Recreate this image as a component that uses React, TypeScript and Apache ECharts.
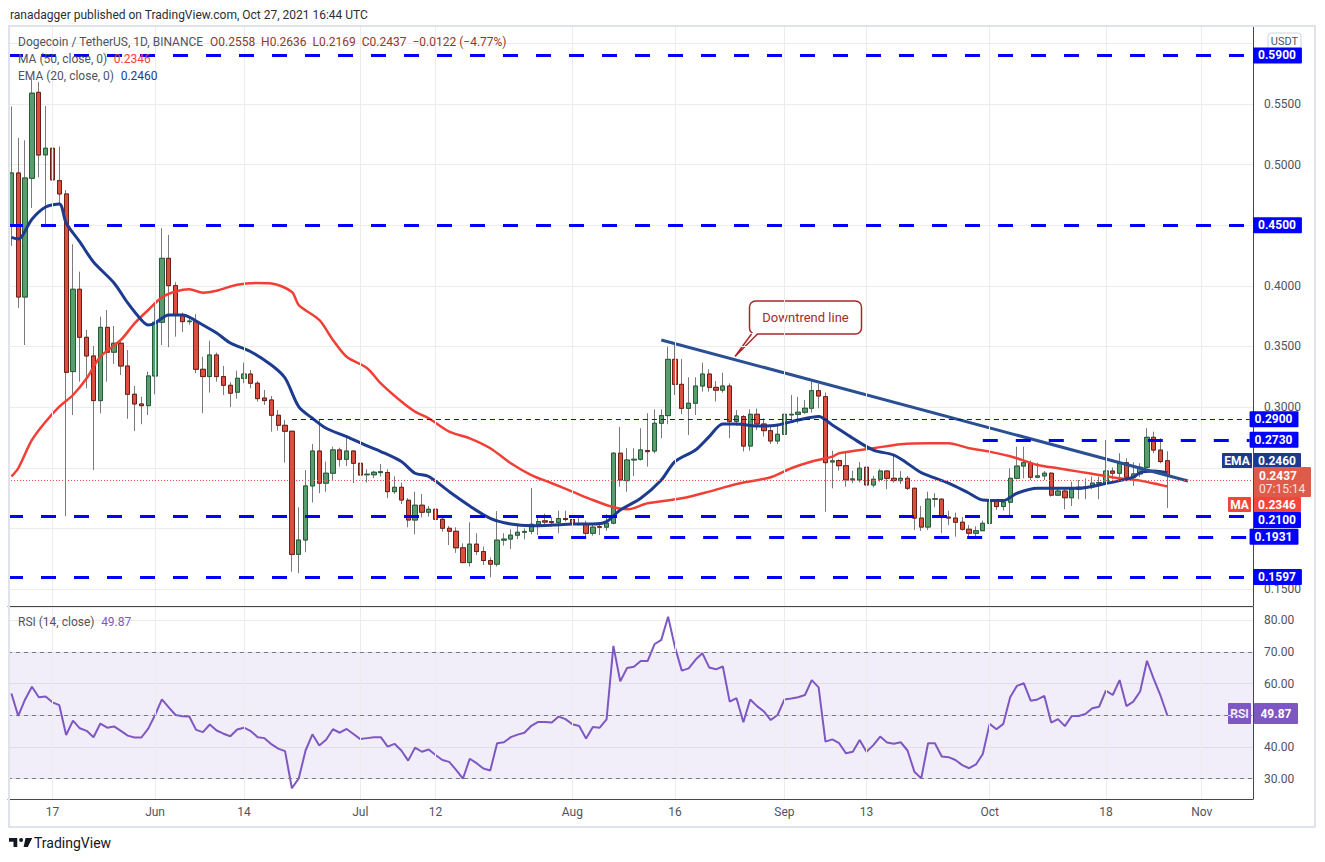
import React, { useEffect, useRef } from "react";
import * as echarts from "echarts";

// ---------- data ----------
const FIRST_DAY = Date.UTC(2021, 4, 11);
const DAY_COUNT = 182;
const categories: string[] = [];
for (let k = 0; k < DAY_COUNT; k++) {
  categories.push(new Date(FIRST_DAY + k * 86400000).toISOString().slice(0, 10));
}

const opens = [
  0.4502, 0.4931, 0.3908, 0.4887, 0.5596, 0.508, 0.5135, 0.4868, 0.4758, 0.3293,
  0.3972, 0.3576, 0.3422, 0.3054, 0.3658, 0.3453, 0.3527, 0.3339, 0.3106, 0.3026,
  0.3012, 0.3257, 0.37, 0.4227, 0.4002, 0.376, 0.3705, 0.3705, 0.3312, 0.3252,
  0.343, 0.3252, 0.318, 0.3123, 0.3238, 0.3273, 0.3197, 0.3075, 0.3059, 0.2933,
  0.285, 0.2801, 0.1786, 0.1904, 0.235, 0.2638, 0.2373, 0.2455, 0.2647, 0.257,
  0.2638, 0.2537, 0.2442, 0.2442, 0.246, 0.2461, 0.2303, 0.2339, 0.2232, 0.2069,
  0.2191, 0.2133, 0.2158, 0.2075, 0.2001, 0.1976, 0.184, 0.1718, 0.187, 0.1809,
  0.1735, 0.1705, 0.1903, 0.1912, 0.1944, 0.1968, 0.1976, 0.2034, 0.2062, 0.2056,
  0.2048, 0.2081, 0.2073, 0.204, 0.2036, 0.196, 0.2014, 0.201, 0.2043, 0.262,
  0.2394, 0.2564, 0.257, 0.2642, 0.2638, 0.2867, 0.293, 0.3394, 0.3188, 0.299,
  0.3032, 0.3174, 0.3273, 0.3163, 0.314, 0.3174, 0.2883, 0.2922, 0.2679, 0.2941,
  0.2861, 0.2806, 0.2721, 0.2776, 0.2936, 0.2941, 0.2958, 0.2991, 0.3136, 0.3087,
  0.2548, 0.2559, 0.2517, 0.24, 0.24, 0.2504, 0.2358, 0.2405, 0.2473, 0.2413,
  0.2394, 0.2413, 0.2331, 0.2085, 0.2011, 0.2241, 0.2241, 0.2093, 0.2085, 0.2051,
  0.1993, 0.196, 0.1981, 0.2042, 0.2221, 0.218, 0.2216, 0.2413, 0.2514, 0.2537,
  0.2422, 0.2433, 0.2455, 0.2274, 0.2308, 0.2253, 0.2323, 0.2336, 0.2342, 0.2373,
  0.2373, 0.2473, 0.2455, 0.2542, 0.2422, 0.2449, 0.2504, 0.2751, 0.2646, 0.2558,
];
const closes = [
  0.4931, 0.3908, 0.489, 0.5589, 0.5079, 0.5135, 0.4874, 0.4758, 0.3287, 0.3972,
  0.3576, 0.3422, 0.3054, 0.3658, 0.3453, 0.3527, 0.3339, 0.3106, 0.3026, 0.3012,
  0.3257, 0.37, 0.4227, 0.4002, 0.376, 0.3705, 0.371, 0.3312, 0.3252, 0.343,
  0.3252, 0.318, 0.3115, 0.3238, 0.3273, 0.3197, 0.307, 0.3054, 0.2933, 0.285,
  0.2801, 0.1786, 0.1904, 0.235, 0.2638, 0.2373, 0.2455, 0.2647, 0.257, 0.2638,
  0.2537, 0.244, 0.2447, 0.2463, 0.2468, 0.2303, 0.2339, 0.2234, 0.2069, 0.2191,
  0.2133, 0.2158, 0.2075, 0.2001, 0.1976, 0.184, 0.1718, 0.187, 0.1809, 0.1735,
  0.1705, 0.1903, 0.1912, 0.1944, 0.1968, 0.1975, 0.2034, 0.2056, 0.2052, 0.2048,
  0.2081, 0.2073, 0.204, 0.2035, 0.196, 0.201, 0.201, 0.2043, 0.262, 0.2399,
  0.2564, 0.257, 0.2647, 0.2633, 0.2867, 0.293, 0.3394, 0.3188, 0.299, 0.3032,
  0.3174, 0.3273, 0.3163, 0.314, 0.3174, 0.2883, 0.2927, 0.2679, 0.2941, 0.2861,
  0.2806, 0.2721, 0.2776, 0.2941, 0.2941, 0.2958, 0.2991, 0.3136, 0.3092, 0.2542,
  0.2557, 0.2517, 0.24, 0.2408, 0.2496, 0.2358, 0.2405, 0.2473, 0.2413, 0.2394,
  0.2413, 0.2331, 0.2085, 0.2011, 0.2241, 0.2244, 0.2093, 0.2085, 0.2051, 0.1993,
  0.196, 0.1981, 0.2042, 0.2221, 0.218, 0.2216, 0.2413, 0.2514, 0.2542, 0.2422,
  0.2433, 0.2455, 0.2274, 0.2308, 0.2253, 0.2323, 0.234, 0.2342, 0.2373, 0.2377,
  0.2473, 0.2455, 0.2542, 0.2422, 0.2449, 0.2504, 0.2751, 0.2646, 0.2551, 0.2437,
];
const lows = [
  0.433, 0.3818, 0.3512, 0.4642, 0.4895, 0.4494, 0.4626, 0.4667, 0.21, 0.2935,
  0.321, 0.3155, 0.2481, 0.2949, 0.321, 0.3356, 0.3265, 0.2904, 0.2803, 0.2859,
  0.2935, 0.3106, 0.3512, 0.3494, 0.3581, 0.362, 0.368, 0.328, 0.2949, 0.312,
  0.321, 0.31, 0.3, 0.307, 0.3197, 0.3155, 0.3046, 0.3018, 0.2798, 0.2806,
  0.2542, 0.1643, 0.163, 0.1803, 0.2213, 0.229, 0.2303, 0.2394, 0.2509, 0.2514,
  0.2373, 0.2378, 0.2378, 0.2414, 0.2428, 0.2249, 0.2284, 0.2201, 0.2009, 0.1951,
  0.2091, 0.2097, 0.2027, 0.1973, 0.1863, 0.1798, 0.1713, 0.1685, 0.178, 0.1698,
  0.1597, 0.1685, 0.1858, 0.183, 0.1912, 0.191, 0.1951, 0.1945, 0.2023, 0.2016,
  0.196, 0.2056, 0.2016, 0.2021, 0.1927, 0.194, 0.1945, 0.198, 0.2034, 0.2344,
  0.2303, 0.2432, 0.2559, 0.2509, 0.262, 0.2744, 0.2859, 0.31, 0.2942, 0.277,
  0.2935, 0.3128, 0.3128, 0.3046, 0.312, 0.2744, 0.2845, 0.2634, 0.2641, 0.2811,
  0.2757, 0.2696, 0.2696, 0.2757, 0.2894, 0.2867, 0.2944, 0.2955, 0.2991, 0.2138,
  0.233, 0.2477, 0.2344, 0.2373, 0.2378, 0.2282, 0.2339, 0.2386, 0.2323, 0.2378,
  0.2366, 0.2317, 0.1987, 0.1979, 0.1987, 0.2174, 0.196, 0.2027, 0.1932, 0.1981,
  0.1927, 0.1932, 0.1979, 0.202, 0.2152, 0.2147, 0.2102, 0.2405, 0.2413, 0.2399,
  0.2414, 0.2399, 0.2262, 0.2268, 0.2158, 0.2185, 0.224, 0.2241, 0.2323, 0.224,
  0.237, 0.2405, 0.2386, 0.2386, 0.235, 0.2425, 0.2496, 0.262, 0.2537, 0.2169,
];
const highs = [
  0.548, 0.522, 0.52, 0.571, 0.568, 0.5484, 0.5154, 0.515, 0.479, 0.4343,
  0.4117, 0.3636, 0.3504, 0.3746, 0.3801, 0.3669, 0.354, 0.3471, 0.3174, 0.3086,
  0.3293, 0.3842, 0.4475, 0.442, 0.403, 0.378, 0.374, 0.3766, 0.3416, 0.3548,
  0.345, 0.334, 0.3205, 0.3301, 0.3367, 0.3306, 0.3215, 0.3141, 0.3092, 0.2976,
  0.2894, 0.2806, 0.2174, 0.2481, 0.2696, 0.29, 0.2551, 0.2674, 0.2666, 0.2757,
  0.2645, 0.262, 0.2487, 0.2475, 0.2531, 0.2488, 0.2428, 0.2378, 0.225, 0.2303,
  0.2284, 0.2185, 0.2185, 0.2097, 0.202, 0.2009, 0.1877, 0.205, 0.196, 0.185,
  0.176, 0.2143, 0.196, 0.1993, 0.2042, 0.2, 0.2333, 0.211, 0.2122, 0.2095,
  0.2146, 0.2146, 0.2174, 0.2105, 0.2064, 0.2042, 0.2042, 0.2118, 0.2628, 0.2837,
  0.2661, 0.2661, 0.2826, 0.295, 0.2982, 0.2982, 0.3499, 0.3512, 0.3397, 0.3246,
  0.3246, 0.3367, 0.3312, 0.3215, 0.3285, 0.3196, 0.2976, 0.2934, 0.2982, 0.2988,
  0.2908, 0.2845, 0.2859, 0.2991, 0.31, 0.3086, 0.3059, 0.3211, 0.3191, 0.312,
  0.2641, 0.257, 0.2625, 0.2476, 0.2547, 0.2523, 0.2432, 0.2488, 0.2481, 0.2597,
  0.2473, 0.2432, 0.2335, 0.2185, 0.2303, 0.229, 0.2245, 0.2146, 0.213, 0.2095,
  0.2027, 0.2017, 0.2064, 0.2249, 0.2241, 0.2241, 0.2496, 0.2674, 0.2674, 0.2559,
  0.2542, 0.2473, 0.2463, 0.2339, 0.2325, 0.2386, 0.2399, 0.2413, 0.2428, 0.2428,
  0.2729, 0.2503, 0.262, 0.2578, 0.2544, 0.2537, 0.2826, 0.2798, 0.2743, 0.2636,
];

const rsiValues = [
  56.9, 49.8, 55.0, 59.0, 55.7, 55.9, 54.1, 53.2, 43.8, 48.3,
  45.9, 45.1, 43.1, 47.4, 46.1, 46.5, 45.1, 43.6, 43.0, 43.0,
  45.8, 50.1, 55.0, 52.5, 50.1, 49.7, 49.6, 45.4, 44.7, 47.1,
  45.2, 44.2, 43.4, 45.5, 46.1, 45.0, 43.1, 42.8, 40.9, 39.5,
  38.7, 27.0, 30.1, 38.9, 44.0, 40.5, 42.3, 45.6, 44.5, 45.7,
  44.1, 42.5, 42.8, 43.1, 43.1, 40.1, 41.0, 38.9, 35.7, 39.8,
  38.5, 39.2, 37.5, 35.9, 35.3, 32.8, 30.0, 36.3, 34.9, 33.2,
  32.6, 41.2, 41.5, 43.1, 43.9, 44.5, 46.7, 47.9, 47.9, 47.7,
  49.6, 48.8, 47.2, 46.6, 42.7, 46.3, 46.1, 48.7, 71.9, 60.7,
  64.9, 65.3, 67.1, 67.1, 72.4, 73.8, 81.1, 71.5, 64.1, 64.8,
  67.5, 69.6, 65.1, 64.5, 65.4, 54.3, 55.4, 47.8, 55.0, 52.9,
  51.2, 48.5, 50.1, 55.0, 55.3, 55.7, 56.4, 61.1, 58.8, 41.7,
  42.4, 41.2, 38.0, 38.5, 42.2, 38.5, 40.6, 43.3, 41.4, 41.0,
  41.5, 38.9, 32.2, 30.1, 41.2, 41.2, 37.0, 36.8, 35.9, 34.3,
  33.3, 34.5, 37.8, 47.3, 45.6, 47.3, 55.7, 59.3, 60.1, 54.6,
  55.0, 56.1, 47.7, 48.8, 46.6, 49.8, 49.8, 50.4, 52.2, 52.7,
  57.8, 56.4, 61.1, 52.9, 54.3, 57.5, 67.2, 61.4, 56.1, 49.87,
];

const emaSamples: [string, number][] = [
  ["2021-05-11", 0.44], ["2021-05-12", 0.4387], ["2021-05-14", 0.455], ["2021-05-16", 0.465],
  ["2021-05-18", 0.4675], ["2021-05-19", 0.4518], ["2021-05-21", 0.4362], ["2021-05-23", 0.4197],
  ["2021-05-26", 0.4024], ["2021-05-28", 0.3859], ["2021-05-30", 0.3719], ["2021-05-31", 0.3677],
  ["2021-06-01", 0.3694], ["2021-06-03", 0.376], ["2021-06-05", 0.376], ["2021-06-06", 0.3743],
  ["2021-06-08", 0.3677], ["2021-06-10", 0.3611], ["2021-06-12", 0.3529], ["2021-06-15", 0.3457],
  ["2021-06-18", 0.3347], ["2021-06-20", 0.324], ["2021-06-22", 0.3004], ["2021-06-24", 0.2908],
  ["2021-06-26", 0.2826], ["2021-06-29", 0.2757], ["2021-07-02", 0.268], ["2021-07-04", 0.2634],
  ["2021-07-07", 0.2551], ["2021-07-09", 0.2455], ["2021-07-11", 0.2428], ["2021-07-14", 0.2303],
  ["2021-07-17", 0.2185], ["2021-07-20", 0.2083], ["2021-07-23", 0.2036], ["2021-07-26", 0.2022],
  ["2021-07-29", 0.2027], ["2021-08-01", 0.2036], ["2021-08-04", 0.2036], ["2021-08-06", 0.2056],
  ["2021-08-08", 0.2151], ["2021-08-11", 0.2248], ["2021-08-14", 0.2399], ["2021-08-16", 0.2551],
  ["2021-08-19", 0.2646], ["2021-08-21", 0.2757], ["2021-08-23", 0.2861], ["2021-08-25", 0.2861],
  ["2021-08-28", 0.2844], ["2021-08-31", 0.2853], ["2021-09-03", 0.2894], ["2021-09-06", 0.2922],
  ["2021-09-08", 0.2853], ["2021-09-11", 0.2743], ["2021-09-14", 0.2646], ["2021-09-17", 0.2605],
  ["2021-09-19", 0.2536], ["2021-09-21", 0.246], ["2021-09-25", 0.2373], ["2021-09-28", 0.229],
  ["2021-09-30", 0.2234], ["2021-10-03", 0.2229], ["2021-10-05", 0.229], ["2021-10-08", 0.2331],
  ["2021-10-11", 0.2331], ["2021-10-14", 0.2331], ["2021-10-17", 0.2358], ["2021-10-20", 0.2394],
  ["2021-10-22", 0.2422], ["2021-10-23", 0.246], ["2021-10-25", 0.2473], ["2021-10-27", 0.246],
];

const maSamples: [string, number][] = [
  ["2021-05-11", 0.2428], ["2021-05-12", 0.2496], ["2021-05-14", 0.2729], ["2021-05-16", 0.288],
  ["2021-05-18", 0.3004], ["2021-05-20", 0.31], ["2021-05-22", 0.3238], ["2021-05-24", 0.3416],
  ["2021-05-27", 0.3554], ["2021-05-29", 0.3691], ["2021-05-31", 0.3801], ["2021-06-02", 0.3905],
  ["2021-06-04", 0.3953], ["2021-06-06", 0.3972], ["2021-06-08", 0.3944], ["2021-06-10", 0.396],
  ["2021-06-13", 0.401], ["2021-06-16", 0.4024], ["2021-06-18", 0.402], ["2021-06-21", 0.395],
  ["2021-06-22", 0.3842], ["2021-06-25", 0.3719], ["2021-06-27", 0.3554], ["2021-06-29", 0.3416],
  ["2021-07-02", 0.3321], ["2021-07-04", 0.3196], ["2021-07-07", 0.3046], ["2021-07-09", 0.2963],
  ["2021-07-11", 0.2908], ["2021-07-14", 0.2798], ["2021-07-17", 0.2743], ["2021-07-20", 0.2661],
  ["2021-07-23", 0.2537], ["2021-07-26", 0.244], ["2021-07-29", 0.2372], ["2021-08-01", 0.2303],
  ["2021-08-04", 0.2234], ["2021-08-07", 0.2174], ["2021-08-09", 0.2157], ["2021-08-12", 0.2207],
  ["2021-08-17", 0.2248], ["2021-08-21", 0.2303], ["2021-08-25", 0.2366], ["2021-08-30", 0.2422],
  ["2021-09-02", 0.2496], ["2021-09-05", 0.2551], ["2021-09-08", 0.2592], ["2021-09-09", 0.262],
  ["2021-09-14", 0.2661], ["2021-09-18", 0.2694], ["2021-09-22", 0.2702], ["2021-09-25", 0.2702],
  ["2021-09-28", 0.2661], ["2021-10-01", 0.2633], ["2021-10-04", 0.2595], ["2021-10-05", 0.2578],
  ["2021-10-08", 0.2523], ["2021-10-11", 0.2496], ["2021-10-14", 0.2468], ["2021-10-17", 0.244],
  ["2021-10-20", 0.2413], ["2021-10-23", 0.2394], ["2021-10-26", 0.2358], ["2021-10-27", 0.2346],
];

const trendPoints: [string, number][] = [["2021-08-14", 0.3554], ["2021-10-30", 0.2391]];

const fullLevels = [0.59, 0.45, 0.21, 0.1597];
const partialLevels: { from: string; value: number; thin: boolean }[] = [
  { from: "2021-06-21", value: 0.29, thin: true },
  { from: "2021-09-30", value: 0.273, thin: false },
  { from: "2021-07-27", value: 0.1931, thin: false },
];
const displacedLevelLabel = 0.21; // its tag is pushed below the MA tag, as in the original
const lastPrice = 0.2437;

const xTicks: [string, string][] = [
  ["2021-05-17", "17"], ["2021-06-01", "Jun"], ["2021-06-14", "14"], ["2021-07-01", "Jul"],
  ["2021-07-12", "12"], ["2021-08-01", "Aug"], ["2021-08-16", "16"], ["2021-09-01", "Sep"],
  ["2021-09-13", "13"], ["2021-10-01", "Oct"], ["2021-10-18", "18"], ["2021-11-01", "Nov"],
];
const hiddenPriceTicks = [0.6, 0.45, 0.25, 0.2];

// ---------- styles ----------
const FONT = "Roboto, 'Noto Sans', sans-serif";
const LEVEL_BLUE = "#0000ff";
const AXIS_TEXT = "#50535e";
const GRID_LINE = "#ececec";

const LOGO_PATH =
  "M0 0H11V12H6V5H0Z M13.5 2.6A2.6 2.6 0 1 0 18.7 2.6A2.6 2.6 0 1 0 13.5 2.6Z M22 0H31L25 12H19.5Z";
let logoRegistered = false;

function levelLabel(text: string, show = true) {
  return {
    show,
    position: "end",
    distance: 0,
    formatter: text,
    backgroundColor: LEVEL_BLUE,
    color: "#ffffff",
    fontWeight: "bold",
    fontSize: 12,
    fontFamily: FONT,
    padding: [2, 6, 2, 5],
    borderRadius: 1,
  };
}

function buildOption() {
  const tickMap = new Map(xTicks);
  const lastCat = categories[categories.length - 1];
  const candleData = opens.map((o, i) => [o, closes[i], lows[i], highs[i]]);
  const bodyData = opens.map((o, i) => [o, closes[i], Math.min(o, closes[i]), Math.max(o, closes[i])]);

  const vGrid = xTicks.map(([d]) => ({ xAxis: d }));

  const levelData: any[] = [];
  fullLevels.forEach((v) => {
    levelData.push({
      yAxis: v,
      lineStyle: { color: LEVEL_BLUE, width: 3, type: [15, 18] },
      label: levelLabel(v.toFixed(4), v !== displacedLevelLabel),
    });
  });
  partialLevels.forEach((lv) => {
    levelData.push([
      {
        coord: [lv.from, lv.value],
        lineStyle: lv.thin
          ? { color: LEVEL_BLUE, width: 1.2, type: [5, 4] }
          : { color: LEVEL_BLUE, width: 3, type: [15, 18] },
        label: levelLabel(lv.value.toFixed(4)),
      },
      { coord: [lastCat, lv.value] },
    ]);
  });
  levelData.push({
    yAxis: lastPrice,
    lineStyle: { color: "#ef5350", width: 1, type: [1, 2] },
    label: { show: false },
  });

  const isMultiple = (v: number, step: number) => Math.abs(v / step - Math.round(v / step)) < 1e-6;

  return {
    animation: false,
    backgroundColor: "#ffffff",
    textStyle: { fontFamily: FONT },
    grid: [
      { left: 8, right: 72, top: 26, height: 580 },
      { left: 8, right: 72, top: 607, height: 192 },
    ],
    xAxis: [
      {
        type: "category",
        gridIndex: 0,
        data: categories,
        axisLine: { show: true, lineStyle: { color: "#434651", width: 1 } },
        axisTick: { show: false },
        axisLabel: { show: false },
        splitLine: { show: false },
      },
      {
        type: "category",
        gridIndex: 1,
        data: categories,
        axisLine: { show: true, lineStyle: { color: "#434651", width: 1 } },
        axisTick: { show: false },
        axisLabel: {
          interval: (_i: number, v: string) => tickMap.has(v),
          formatter: (v: string) => tickMap.get(v) || "",
          color: AXIS_TEXT,
          fontSize: 12,
          margin: 7,
          fontFamily: FONT,
        },
        splitLine: { show: false },
      },
    ],
    yAxis: [
      {
        type: "value",
        gridIndex: 0,
        position: "right",
        min: 0.136,
        max: 0.6143,
        splitNumber: 10,
        axisLine: { show: true, lineStyle: { color: "#434651", width: 1 } },
        axisTick: { show: false },
        axisLabel: {
          color: AXIS_TEXT,
          fontSize: 12,
          margin: 11,
          fontFamily: FONT,
          formatter: (v: number) => {
            if (!isMultiple(v, 0.05)) return "";
            if (hiddenPriceTicks.some((h) => Math.abs(h - v) < 1e-6)) return "";
            return v.toFixed(4);
          },
        },
        splitLine: { show: true, lineStyle: { color: GRID_LINE, width: 1 } },
      },
      {
        type: "value",
        gridIndex: 1,
        position: "right",
        min: 23.6,
        max: 84.16,
        splitNumber: 6,
        axisLine: { show: true, lineStyle: { color: "#434651", width: 1 } },
        axisTick: { show: false },
        axisLabel: {
          color: AXIS_TEXT,
          fontSize: 12,
          margin: 11,
          fontFamily: FONT,
          formatter: (v: number) => (isMultiple(v, 10) && Math.abs(v - 50) > 1e-6 ? v.toFixed(2) : ""),
        },
        splitLine: { show: true, lineStyle: { color: GRID_LINE, width: 1 } },
      },
    ],
    series: [
      {
        type: "line",
        name: "vgrid0",
        xAxisIndex: 0,
        yAxisIndex: 0,
        data: [],
        z: 1,
        silent: true,
        markLine: {
          silent: true,
          symbol: ["none", "none"],
          label: { show: false },
          lineStyle: { color: GRID_LINE, width: 1, type: "solid" },
          data: vGrid,
        },
      },
      {
        type: "candlestick",
        name: "wicks",
        xAxisIndex: 0,
        yAxisIndex: 0,
        data: candleData,
        barWidth: "70%",
        z: 2,
        itemStyle: {
          color: "#5b9c6e",
          color0: "#d9503f",
          borderColor: "#7a7a7a",
          borderColor0: "#7a7a7a",
          borderWidth: 1,
        },
      },
      {
        type: "candlestick",
        name: "bodies",
        xAxisIndex: 0,
        yAxisIndex: 0,
        data: bodyData,
        barWidth: "70%",
        z: 3,
        itemStyle: {
          color: "#5b9c6e",
          color0: "#d9503f",
          borderColor: "#225e36",
          borderColor0: "#6e1f18",
          borderWidth: 1,
        },
      },
      {
        type: "line",
        name: "MA",
        xAxisIndex: 0,
        yAxisIndex: 0,
        data: maSamples,
        smooth: 0.3,
        symbol: "none",
        z: 4,
        lineStyle: { color: "#f23f35", width: 2.5 },
      },
      {
        type: "line",
        name: "EMA",
        xAxisIndex: 0,
        yAxisIndex: 0,
        data: emaSamples,
        smooth: 0.3,
        symbol: "none",
        z: 4,
        lineStyle: { color: "#1d3b8f", width: 3 },
      },
      {
        type: "line",
        name: "Downtrend",
        xAxisIndex: 0,
        yAxisIndex: 0,
        data: trendPoints,
        symbol: "none",
        z: 4,
        lineStyle: { color: "#2a4f93", width: 3 },
      },
      {
        type: "line",
        name: "levels",
        xAxisIndex: 0,
        yAxisIndex: 0,
        data: [],
        z: 5,
        silent: true,
        markLine: {
          silent: true,
          symbol: ["none", "none"],
          data: levelData,
        },
      },
      {
        type: "line",
        name: "vgrid1",
        xAxisIndex: 1,
        yAxisIndex: 1,
        data: [],
        z: 1,
        silent: true,
        markLine: {
          silent: true,
          symbol: ["none", "none"],
          label: { show: false },
          lineStyle: { color: GRID_LINE, width: 1, type: "solid" },
          data: vGrid,
        },
      },
      {
        type: "line",
        name: "RSI",
        xAxisIndex: 1,
        yAxisIndex: 1,
        data: rsiValues,
        symbol: "none",
        z: 4,
        lineStyle: { color: "#7e57c2", width: 2 },
        markArea: {
          silent: true,
          itemStyle: { color: "rgba(126,87,194,0.1)" },
          data: [[{ yAxis: 30 }, { yAxis: 70 }]],
        },
        markLine: {
          silent: true,
          symbol: ["none", "none"],
          label: { show: false },
          lineStyle: { color: "#787b86", width: 1, type: [4, 4] },
          data: [{ yAxis: 70 }, { yAxis: 50 }, { yAxis: 30 }],
        },
      },
    ],
    graphic: buildGraphics(),
  };
}

function box(x: number, y: number, w: number, h: number, fill: string, text: string, extra: any = {}) {
  return {
    type: "group",
    z: 100,
    silent: true,
    children: [
      { type: "rect", shape: { x, y, width: w, height: h, r: 1 }, style: { fill } },
      {
        type: "text",
        x: x + w / 2,
        y: y + h / 2,
        style: {
          text,
          fill: "#ffffff",
          font: `bold 12px ${FONT}`,
          align: "center",
          verticalAlign: "middle",
          ...extra,
        },
      },
    ],
  };
}

function buildGraphics() {
  const legendGray = "#50535e";
  return [
    // frame
    {
      type: "rect",
      z: 90,
      silent: true,
      shape: { x: 9, y: 26, width: 1306, height: 801 },
      style: { fill: "none", stroke: "#e0e3eb", lineWidth: 2 },
    },
    {
      type: "text",
      z: 100,
      x: 10,
      y: 15,
      style: {
        text: "ranadagger published on TradingView.com, Oct 27, 2021 16:44 UTC",
        font: `12px ${FONT}`,
        fill: "#2a2e39",
        verticalAlign: "middle",
      },
    },
    {
      type: "text",
      z: 100,
      x: 18,
      y: 42,
      style: {
        text: "{a|Dogecoin / TetherUS, 1D, BINANCE}  {b|O0.2558  H0.2636  L0.2169  C0.2437  −0.0122 (−4.77%)}",
        verticalAlign: "middle",
        rich: {
          a: { font: `12px ${FONT}`, fill: legendGray, color: legendGray },
          b: { font: `12px ${FONT}`, fill: "#8b3a32", color: "#8b3a32" },
        },
      },
    },
    {
      type: "text",
      z: 100,
      x: 18,
      y: 59,
      style: {
        text: "{a|MA (50, close, 0)}  {b|0.2346}",
        verticalAlign: "middle",
        rich: {
          a: { font: `12px ${FONT}`, fill: legendGray, color: legendGray },
          b: { font: `12px ${FONT}`, fill: "#f23f35", color: "#f23f35" },
        },
      },
    },
    {
      type: "text",
      z: 100,
      x: 18,
      y: 76,
      style: {
        text: "{a|EMA (20, close, 0)}  {b|0.2460}",
        verticalAlign: "middle",
        rich: {
          a: { font: `12px ${FONT}`, fill: legendGray, color: legendGray },
          b: { font: `12px ${FONT}`, fill: "#1d3b8f", color: "#1d3b8f" },
        },
      },
    },
    {
      type: "text",
      z: 100,
      x: 18,
      y: 622,
      style: {
        text: "{a|RSI (14, close)}  {b|49.87}",
        verticalAlign: "middle",
        rich: {
          a: { font: `12px ${FONT}`, fill: legendGray, color: legendGray },
          b: { font: `12px ${FONT}`, fill: "#7e57c2", color: "#7e57c2" },
        },
      },
    },
    // USDT badge
    {
      type: "group",
      z: 100,
      silent: true,
      children: [
        {
          type: "rect",
          shape: { x: 1268, y: 33, width: 33, height: 17, r: 3 },
          style: { fill: "#ffffff", stroke: "#d1d4dc", lineWidth: 1 },
        },
        {
          type: "text",
          x: 1284.5,
          y: 41.5,
          style: { text: "USDT", font: `11px ${FONT}`, fill: "#50535e", align: "center", verticalAlign: "middle" },
        },
      ],
    },
    box(1222, 453, 30, 16, "#1d3a8c", "EMA"),
    box(1253, 453, 48, 16, "#1d3a8c", "0.2460"),
    {
      type: "group",
      z: 101,
      silent: true,
      children: [
        { type: "rect", shape: { x: 1253, y: 467, width: 58, height: 30, r: 1 }, style: { fill: "#de5a4b" } },
        {
          type: "text",
          x: 1259,
          y: 476,
          style: { text: "0.2437", fill: "#ffffff", font: `bold 12px ${FONT}`, verticalAlign: "middle" },
        },
        {
          type: "text",
          x: 1259,
          y: 489,
          style: { text: "07:15:14", fill: "#fbe3df", font: `12px ${FONT}`, verticalAlign: "middle" },
        },
      ],
    },
    box(1228, 497, 23, 15, "#f5453a", "MA"),
    box(1253, 497, 48, 15, "#f5453a", "0.2346"),
    box(1253, 512, 48, 16, LEVEL_BLUE, displacedLevelLabel.toFixed(4)),
    box(1228, 703, 23, 21, "#7e57c2", "RSI"),
    box(1254, 703, 44, 21, "#7e57c2", "49.87"),
    // Downtrend callout
    {
      type: "group",
      z: 100,
      silent: true,
      children: [
        {
          type: "rect",
          shape: { x: 749.5, y: 301, width: 112, height: 33, r: 6 },
          style: { fill: "#ffffff", stroke: "#a8282b", lineWidth: 1.5 },
        },
        {
          type: "polygon",
          shape: { points: [[751.5, 333], [735, 356.5], [757.5, 333]] },
          style: { fill: "#ffffff" },
        },
        {
          type: "polyline",
          shape: { points: [[751.5, 334], [735, 356.5], [757.5, 334]] },
          style: { stroke: "#a8282b", lineWidth: 1.5, fill: "none" },
        },
        {
          type: "text",
          x: 805.5,
          y: 317.5,
          style: {
            text: "Downtrend line",
            font: `13px ${FONT}`,
            fill: "#a8282b",
            align: "center",
            verticalAlign: "middle",
          },
        },
      ],
    },
    // TradingView logo + name
    {
      type: "tvlogo",
      z: 100,
      x: 9,
      y: 838,
      scaleX: 0.75,
      scaleY: 0.75,
      style: { fill: "#131722" },
    },
    {
      type: "text",
      z: 100,
      x: 34,
      y: 843,
      style: { text: "TradingView", font: `14px ${FONT}`, fill: "#131722", verticalAlign: "middle" },
    },
  ];
}

export default function App() {
  const ref = useRef<HTMLDivElement>(null);
  useEffect(() => {
    document.body.style.margin = "0";
    if (!logoRegistered) {
      echarts.graphic.registerShape("tvlogo", echarts.graphic.extendPath(LOGO_PATH, {}) as any);
      logoRegistered = true;
    }
    if (!ref.current) return;
    const chart = echarts.init(ref.current, undefined, { renderer: "svg" });
    chart.setOption(buildOption() as any);
    return () => chart.dispose();
  }, []);
  return (
    <div
      ref={ref}
      style={{ position: "absolute", left: 0, top: 0, width: 1325, height: 862, background: "#ffffff" }}
    />
  );
}
